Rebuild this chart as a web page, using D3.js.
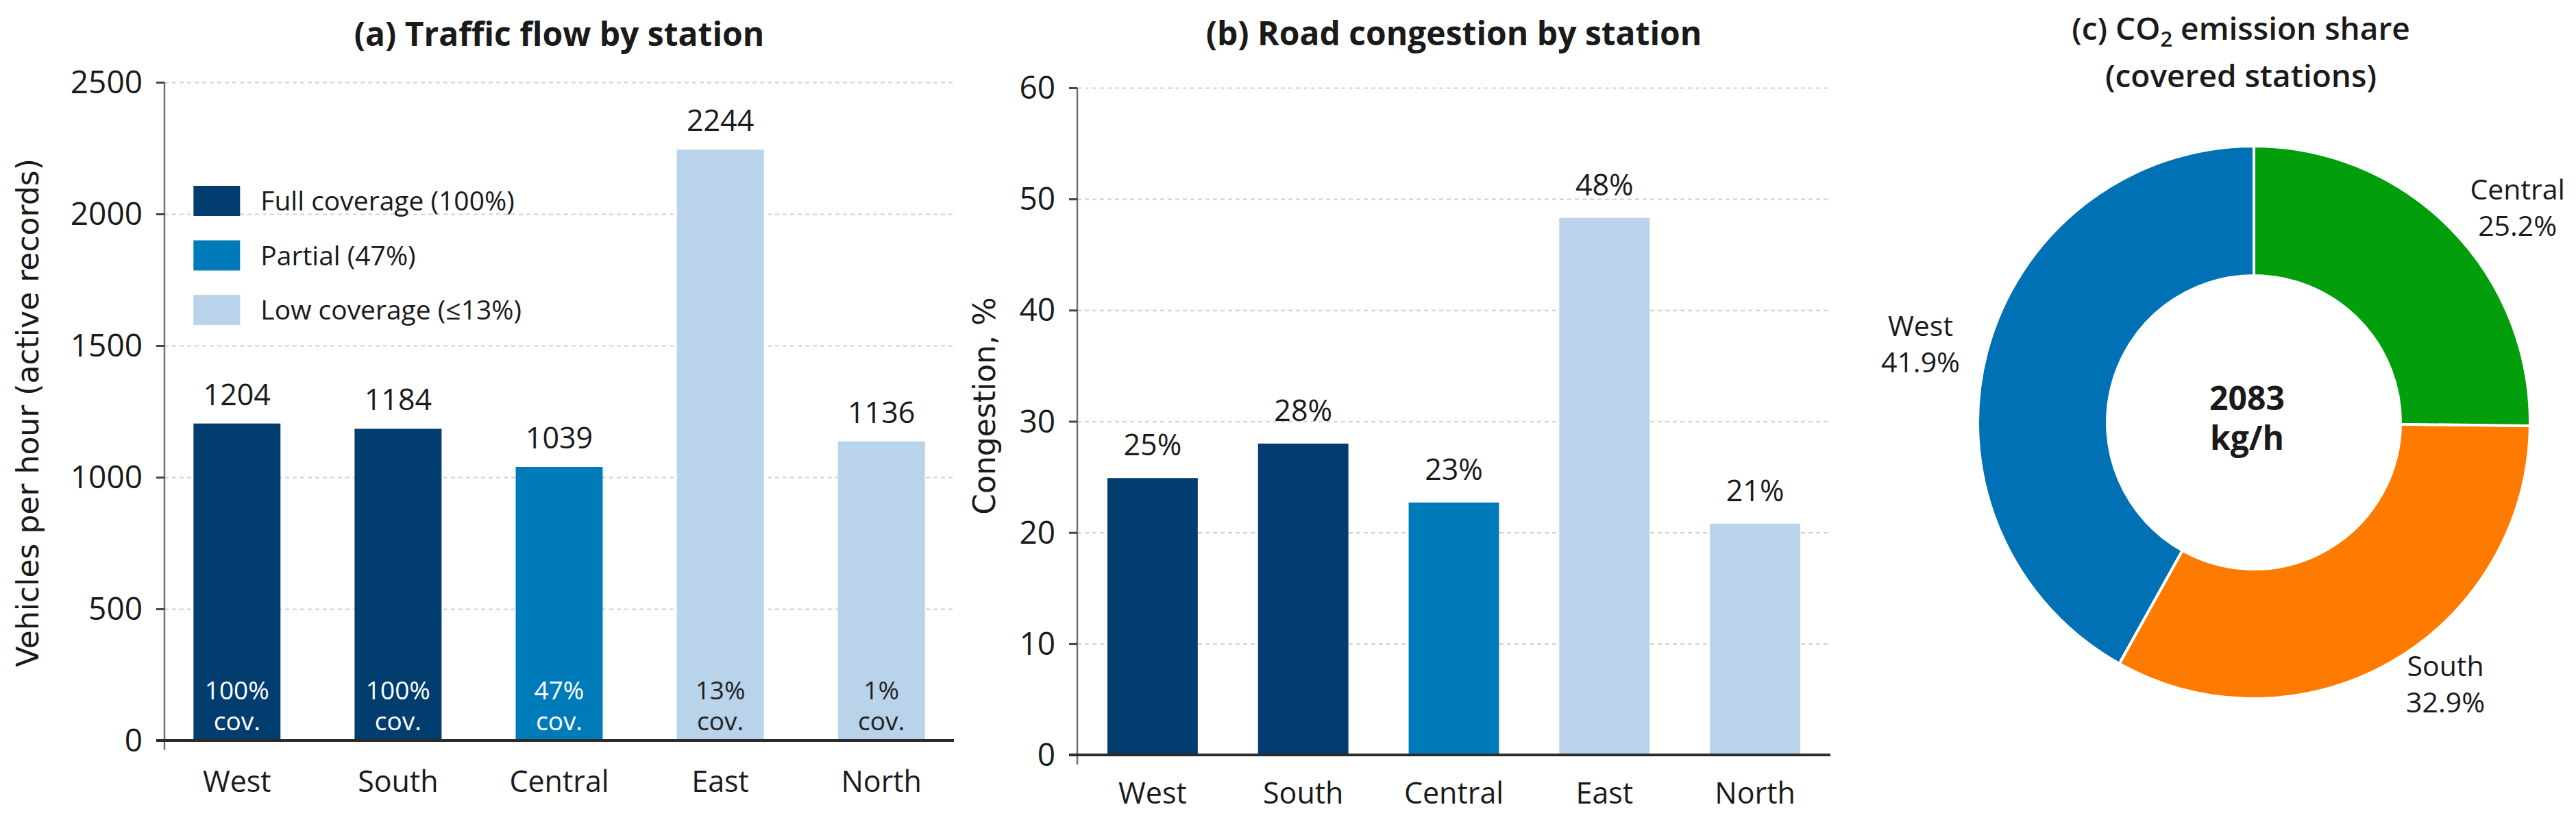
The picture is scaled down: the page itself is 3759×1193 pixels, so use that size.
<!DOCTYPE html>
<html>
<head>
<meta charset="UTF-8">
<title>Traffic flow, congestion and CO2 by station</title>
<script src="https://cdn.jsdelivr.net/npm/d3@7"></script>
<style>
  body { margin: 0; background: #fff; }
  text { font-family: "Open Sans", sans-serif; fill: #1a1a1a; }
</style>
</head>
<body>
<svg width="3759" height="1193"></svg>
<script>
var stations = ["West", "South", "Central", "East", "North"];
var flowValues = [1204, 1184, 1039, 2244, 1136];
var coveragePct = [100, 100, 47, 13, 1];
var coverageTier = ["full", "full", "partial", "low", "low"];
var congestionValues = [24.9, 28.0, 22.7, 48.3, 20.8];
var flowTicks = [0, 500, 1000, 1500, 2000, 2500];
var congestionTicks = [0, 10, 20, 30, 40, 50, 60];
var legendTiers = ["full", "partial", "low"];
var legendLabels = ["Full coverage (100%)", "Partial (47%)", "Low coverage (≤13%)"];
var emissionStations = ["West", "South", "Central"];
var emissionShares = [41.9, 32.9, 25.2];
var emissionTotal = 2083;

var svg = d3.select("svg");

var tierColor = d3.scaleOrdinal()
    .domain(["full", "partial", "low"])
    .range(["#023d6f", "#007bba", "#b9d3ea"]);
var tierInk = d3.scaleOrdinal()
    .domain(["full", "partial", "low"])
    .range(["#ffffff", "#ffffff", "#222222"]);
var emissionColor = d3.scaleOrdinal()
    .domain(emissionStations)
    .range(["#0071b4", "#ff7b00", "#039e0b"]);

// one bar panel: axes, grid, bars, value labels
function barPanel(cfg) {
    var g = svg.append("g");
    var x = d3.scaleBand()
        .domain(stations)
        .range([cfg.left, cfg.right])
        .paddingInner(cfg.padIn)
        .paddingOuter(cfg.padOut);
    var y = d3.scaleLinear()
        .domain([0, d3.max(cfg.ticks)])
        .range([cfg.zero, cfg.top]);

    // dashed grid
    g.append("g")
        .attr("transform", "translate(" + cfg.left + ",0)")
        .call(d3.axisLeft(y).tickValues(cfg.ticks).tickSize(-(cfg.right - cfg.left)).tickFormat(""))
        .call(function(a) { a.select(".domain").remove(); a.selectAll("text").remove(); })
        .selectAll("line")
        .attr("stroke", "#d2d2d2")
        .attr("stroke-width", 2.2)
        .attr("stroke-dasharray", "6,5");

    // bars
    g.selectAll("rect.bar")
        .data(cfg.values)
        .enter().append("rect")
        .attr("class", "bar")
        .attr("x", function(d, i) { return x(stations[i]); })
        .attr("width", x.bandwidth())
        .attr("y", function(d) { return y(d); })
        .attr("height", function(d) { return y(0) - y(d); })
        .attr("fill", function(d, i) { return tierColor(coverageTier[i]); });

    // left spine
    g.append("line")
        .attr("x1", cfg.left).attr("x2", cfg.left)
        .attr("y1", y(d3.max(cfg.ticks))).attr("y2", y(0) + 14)
        .attr("stroke", "#707070")
        .attr("stroke-width", 2.5);

    // y ticks
    var ya = g.append("g")
        .attr("transform", "translate(" + cfg.left + ",0)")
        .call(d3.axisLeft(y).tickValues(cfg.ticks).tickFormat(d3.format("d")).tickSize(12).tickPadding(20));
    ya.select(".domain").remove();
    ya.selectAll("line").attr("stroke", "#444").attr("stroke-width", 3);
    ya.selectAll("text")
        .attr("font-family", "Open Sans")
        .attr("font-size", 46)
        .attr("fill", "#1a1a1a")
        .attr("dy", "0.34em");

    // zero line
    g.append("line")
        .attr("x1", cfg.left - 12).attr("x2", cfg.right)
        .attr("y1", y(0)).attr("y2", y(0))
        .attr("stroke", "#2b2b2b")
        .attr("stroke-width", 4);

    // category axis
    var xa = g.append("g")
        .attr("transform", "translate(0," + y(0) + ")")
        .call(d3.axisBottom(x).tickSize(0).tickPadding(cfg.catPad));
    xa.select(".domain").remove();
    xa.selectAll("text")
        .attr("font-family", "Open Sans")
        .attr("font-size", 43)
        .attr("fill", "#1a1a1a");

    // value labels
    g.selectAll("text.val")
        .data(cfg.values)
        .enter().append("text")
        .attr("class", "val")
        .attr("x", function(d, i) { return x(stations[i]) + x.bandwidth() / 2; })
        .attr("y", function(d) { return y(d) - cfg.valGap; })
        .attr("text-anchor", "middle")
        .attr("font-size", 43)
        .text(cfg.format);

    // axis title
    g.append("text")
        .attr("transform", "translate(" + cfg.labelX + "," + cfg.labelY + ") rotate(-90)")
        .attr("text-anchor", "middle")
        .attr("dy", "0.35em")
        .style("font-family", "'DejaVu Sans', sans-serif")
        .attr("font-size", 44)
        .text(cfg.yLabel);

    // panel title
    g.append("text")
        .attr("x", (cfg.left + cfg.right) / 2)
        .attr("y", cfg.titleY)
        .attr("text-anchor", "middle")
        .attr("font-weight", 700)
        .attr("font-size", 48)
        .text(cfg.title);

    return { g: g, x: x, y: y };
}

var pa = barPanel({
    left: 240, right: 1392, top: 120, zero: 1080,
    padIn: 0.46, padOut: 0.18,
    ticks: flowTicks, values: flowValues,
    format: function(d) { return d; },
    valGap: 27, catPad: 44,
    labelX: 41, labelY: 602,
    yLabel: "Vehicles per hour (active records)",
    title: "(a) Traffic flow by station", titleY: 67
});

// coverage labels inside the bars
var cov = pa.g.selectAll("text.cov")
    .data(coveragePct)
    .enter().append("text")
    .attr("class", "cov")
    .attr("text-anchor", "middle")
    .attr("font-size", 37)
    .style("fill", function(d, i) { return tierInk(coverageTier[i]); });
cov.append("tspan")
    .attr("x", function(d, i) { return pa.x(stations[i]) + pa.x.bandwidth() / 2; })
    .attr("y", pa.y(0) - 60)
    .text(function(d) { return d + "%"; });
cov.append("tspan")
    .attr("x", function(d, i) { return pa.x(stations[i]) + pa.x.bandwidth() / 2; })
    .attr("y", pa.y(0) - 15)
    .text("cov.");

// legend
var legend = pa.g.append("g")
    .attr("transform", "translate(" + pa.x(stations[0]) + ",293)");
var rows = legend.selectAll("g")
    .data(legendTiers)
    .enter().append("g")
    .attr("transform", function(d, i) { return "translate(0," + i * 79.5 + ")"; });
rows.append("rect")
    .attr("x", 0).attr("y", -22)
    .attr("width", 68).attr("height", 44)
    .attr("fill", function(d) { return tierColor(d); });
rows.append("text")
    .attr("x", 98)
    .attr("dy", "0.36em")
    .attr("font-size", 39)
    .text(function(d, i) { return legendLabels[i]; });

barPanel({
    left: 1572, right: 2671, top: 128, zero: 1101,
    padIn: 0.4, padOut: 0.2,
    ticks: congestionTicks, values: congestionValues,
    format: function(d) { return Math.round(d) + "%"; },
    valGap: 33, catPad: 40,
    labelX: 1437, labelY: 592,
    yLabel: "Congestion, %",
    title: "(b) Road congestion by station", titleY: 66
});

// donut
var cx = 3289, cy = 616, rOut = 403, rIn = 214;
var donut = svg.append("g").attr("transform", "translate(" + cx + "," + cy + ")");
var pie = d3.pie().sort(null).startAngle(0).endAngle(-2 * Math.PI);
var arcs = pie(emissionShares);
var arc = d3.arc().innerRadius(rIn).outerRadius(rOut);
var labelArc = d3.arc().innerRadius(rOut * 1.1).outerRadius(rOut * 1.1);

donut.selectAll("path")
    .data(arcs)
    .enter().append("path")
    .attr("d", arc)
    .attr("fill", function(d, i) { return emissionColor(emissionStations[i]); })
    .attr("stroke", "#fff")
    .attr("stroke-width", 4);

// slice labels: block sits beside the anchor, lines centred inside it
var lab = donut.selectAll("text.slice")
    .data(arcs)
    .enter().append("text")
    .attr("class", "slice")
    .attr("font-size", 41)
    .attr("text-anchor", "middle");
lab.append("tspan")
    .attr("x", 0).attr("y", -14)
    .text(function(d, i) { return emissionStations[i]; });
lab.append("tspan")
    .attr("x", 0).attr("y", 39)
    .text(function(d, i) { return emissionShares[i].toFixed(1) + "%"; });
lab.attr("transform", function(d) {
    var c = labelArc.centroid(d);
    var w = this.getBBox().width;
    return "translate(" + (c[0] + (c[0] > 0 ? w / 2 : -w / 2)) + "," + c[1] + ")";
});

var total = donut.append("text")
    .attr("text-anchor", "middle")
    .attr("font-weight", 700)
    .attr("font-size", 48);
total.append("tspan").attr("x", -10).attr("y", -18).text(emissionTotal);
total.append("tspan").attr("x", -10).attr("y", 40).text("kg/h");

// donut title
var ct = svg.append("text")
    .attr("text-anchor", "middle")
    .attr("font-weight", 600)
    .attr("font-size", 46);
ct.append("tspan").attr("x", 3270).attr("y", 58).text("(c) CO");
ct.append("tspan").attr("font-size", 31).attr("dy", 10).text("2");
ct.append("tspan").attr("dy", -10).text(" emission share");
ct.append("tspan").attr("x", 3270).attr("y", 127).text("(covered stations)");
</script>
</body>
</html>
